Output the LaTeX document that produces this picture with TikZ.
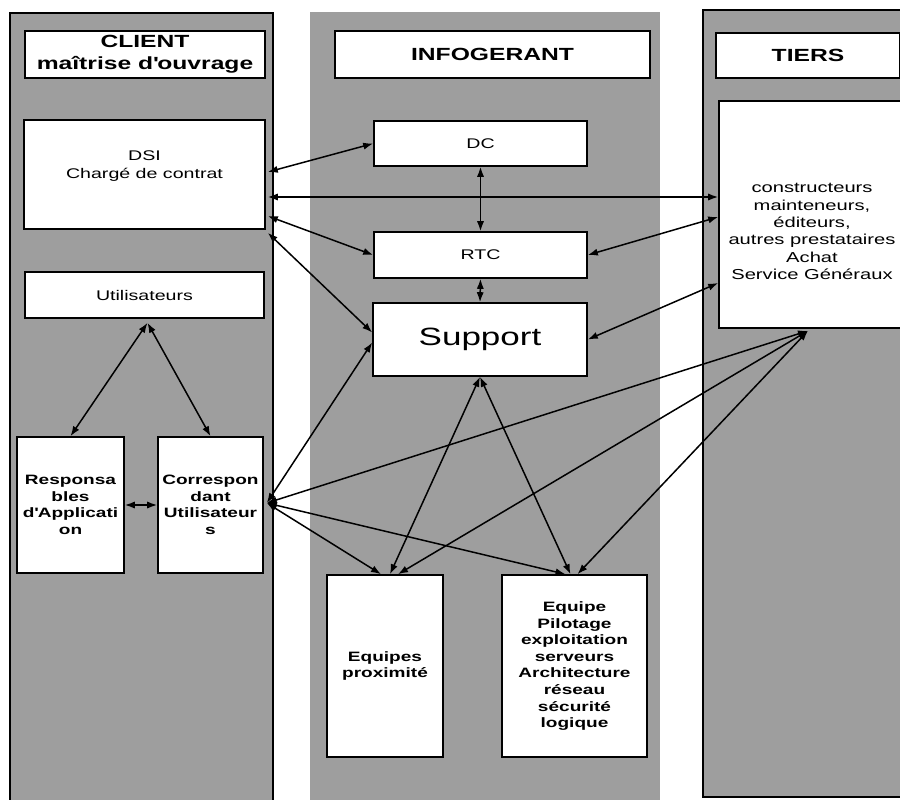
\documentclass[tikz,border=0pt]{standalone}
\usepackage{fontspec}
\setmainfont{Liberation Sans}[FakeStretch=1.4]
\usetikzlibrary{arrows.meta,calc}
\definecolor{fond}{RGB}{158,158,158}

\begin{document}
\begin{tikzpicture}[x=0.5pt,y=-0.5pt,
  taille/.style 2 args={minimum width=#1*0.5pt, minimum height=#2*0.5pt},
  boite/.style={draw, fill=white, line width=0.8pt, inner sep=0pt, align=center},
  titre/.style={boite, font=\bfseries\fontsize{8.8}{11}\selectfont},
  texte/.style={font=\fontsize{7}{9}\selectfont, align=center},
  gras/.style={font=\bfseries\fontsize{6.8}{8.3}\selectfont},
  lien/.style={<->, >={Latex[length=5pt,width=3.6pt]}, line width=0.75pt}]
\clip (0,0) rectangle (900,799);
\fill[white] (0,0) rectangle (900,799);
\filldraw[fill=fond, line width=0.7pt] (10,13) rectangle (273,810);
\fill[fond] (310,12) rectangle (660,810);
\filldraw[fill=fond, line width=0.7pt] (703,10) rectangle (910,797);

\node[titre, taille={240}{47}] (client) at (145,54.5) {CLIENT\\maîtrise d\textquotesingle ouvrage};
\node[titre, taille={315}{47}] (infog) at (492.5,54.5) {INFOGERANT};
\node[titre, taille={184}{45}] (tiershd) at (808,55.5) {TIERS};

\node[boite, taille={241}{109}, label={[texte, yshift=4.25pt]center:DSI\\Chargé de contrat}] (dsi) at (144.5,174.5) {};
\node[boite, texte, taille={239}{46}] (util) at (144.5,295) {Utilisateurs};
\node[boite, gras, taille={107}{136}] (resp) at (70.5,505) {Responsa\\bles\\d\textquotesingle Applicati\\on};
\node[boite, gras, taille={105}{136}] (corr) at (210.5,505) {Correspon\\dant\\Utilisateur\\s};

\node[boite, texte, taille={213}{45}] (dc) at (480.5,143.5) {DC};
\node[boite, texte, taille={213}{46}] (rtc) at (480.5,255) {RTC};
\node[boite, font=\fontsize{12.5}{15}\selectfont, taille={214}{73}] (support) at (480,339.5) {Support};
\node[boite, gras, taille={116}{182}] (equipes) at (385,666) {Equipes\\proximité};
\node[boite, gras, taille={145}{182}] (pilot) at (574.5,666) {Equipe\\Pilotage\\exploitation\\serveurs\\Architecture\\réseau\\sécurité\\logique};

\node[boite, taille={190}{227}, label={[texte, yshift=-8.6pt, xshift=-1pt, font=\fontsize{7.2}{8.7}\selectfont]center:constructeurs\\mainteneurs,\\éditeurs,\\autres prestataires\\Achat\\Service Généraux}] (tiers) at (814,214.5) {};

\coordinate (hub) at ($(corr.east)+(3,-2)$);
\coordinate (tb) at ($(tiers.south)+(-6,2)$);

\draw[lien] ($(dsi.east)+(2,-2.5)$) -- (dc.west);
\draw[lien] ($(dsi.east)+(2,22.5)$) -- ($(tiers.west)+(0,-17.5)$);
\draw[lien] ($(dsi.east)+(2,41.5)$) -- (rtc.west);
\draw[lien] ($(dsi.south east)+(2,3)$) -- ($(support.west)+(0,-7)$);
\draw[lien] (dc.south) -- (rtc.north);
\draw[lien] (rtc.south) -- (support.north);
\draw[lien] (rtc.east) -- ($(tiers.west)+(0,2.5)$);
\draw[lien] (support.east) -- ($(tiers.west)+(0,68.5)$);

\foreach \b in {resp, corr}
  \draw[lien] ($(util.south)+(3,4)$) -- (\b.north);
\draw[lien] (resp.east) -- (corr.west);

\draw[lien] (hub) -- ($(support.west)+(0,3)$);
\draw[lien] (hub) -- (tb);
\draw[lien] (hub) -- ($(equipes.north)+(-4,0)$);
\draw[lien] (hub) -- ($(pilot.north)+(-9,0)$);
\draw[lien] (support.south) -- ($(equipes.north)+(5,0)$);
\draw[lien] (support.south) -- ($(pilot.north)+(-4,0)$);
\draw[lien] (tb) -- ($(equipes.north)+(13,0)$);
\draw[lien] (tb) -- ($(pilot.north)+(3,0)$);
\end{tikzpicture}
\end{document}
